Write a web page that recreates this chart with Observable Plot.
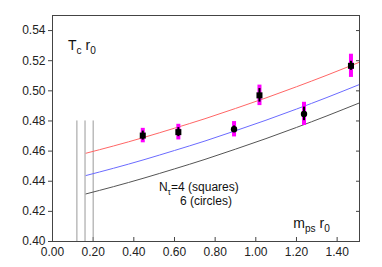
<!DOCTYPE html>
<html><head><meta charset="utf-8">
<style>body{margin:0;background:#fff}</style>
<script src="https://cdn.jsdelivr.net/npm/d3@7"></script>
<script src="https://cdn.jsdelivr.net/npm/@observablehq/plot@0.6"></script>
</head><body><div id="chart"></div>
<script>
const xTicks = [0, 0.2, 0.4, 0.6, 0.8, 1.0, 1.2, 1.4];
const yTicks = [0.40, 0.42, 0.44, 0.46, 0.48, 0.50, 0.52, 0.54];
const massX = [0.444, 0.619, 0.893, 1.018, 1.237, 1.468];
const tcY = [0.4703, 0.4726, 0.4745, 0.4970, 0.4847, 0.5166];
const errTot = [0.0048, 0.0052, 0.0051, 0.0068, 0.0077, 0.0077];
const errStat = [0.003, 0.003, 0.0022, 0.0045, 0.0045, 0.003];
const shapes = ["square", "square", "circle", "square", "circle", "square"];
const physMass = [0.12, 0.16, 0.20];
const curveX = [0.165, 0.3, 0.45, 0.6, 0.75, 0.9, 1.05, 1.2, 1.35, 1.51];
const redY  = [0.4586, 0.4634, 0.4691, 0.4752, 0.4815, 0.4883, 0.4953, 0.5027, 0.5104, 0.5190];
const blueY = [0.4438, 0.4486, 0.4543, 0.4604, 0.4667, 0.4735, 0.4805, 0.4879, 0.4956, 0.5042];
const grayY = [0.4316, 0.4364, 0.4421, 0.4482, 0.4545, 0.4613, 0.4683, 0.4757, 0.4834, 0.4920];

const points = massX.map((x, i) => ({x, y: tcY[i], et: errTot[i], es: errStat[i], s: shapes[i]}));
const curves = [
  {c: "#ff6666", y: redY},
  {c: "#6b6bff", y: blueY},
  {c: "#555555", y: grayY}
].flatMap(d => curveX.map((x, i) => ({x, y: d.y[i], c: d.c})));

const labels = [
  {x: 0.079, y: 0.5268, size: 14, parts: [["T", 0], ["c", 1], [" r", 0], ["0", 1]]},
  {x: 0.526, y: 0.4334, size: 12, parts: [["N", 0], ["τ", 1], ["=4 (squares)", 0]]},
  {x: 0.629, y: 0.4239, size: 12, parts: [["6 (circles)", 0]]},
  {x: 1.187, y: 0.4084, size: 14, parts: [["m", 0], ["ps", 1], [" r", 0], ["0", 1]]}
];

const font = "'Liberation Sans', Arial, Helvetica, sans-serif";
const plot = Plot.plot({
  width: 382, height: 267,
  marginLeft: 52, marginRight: 23, marginTop: 15, marginBottom: 26,
  style: {fontFamily: font, fontSize: "12px", background: "#fff", color: "#222"},
  x: {domain: [0, 1.51]},
  y: {domain: [0.40, 0.55]},
  marks: [
    Plot.axisX(xTicks, {tickSize: -4, tickFormat: () => "", stroke: "#444", label: null}),
    Plot.axisX(xTicks, {tickSize: 0, tickPadding: 6, tickFormat: d3.format(".2f"), fontSize: 12, fill: "#222", label: null}),
    Plot.axisY(yTicks, {tickSize: 4, tickPadding: 3, tickFormat: d3.format(".2f"), fontSize: 12, fill: "#222", stroke: "#444", label: null}),
    Plot.axisY(yTicks, {anchor: "right", tickSize: -4, tickFormat: () => "", stroke: "#444", label: null}),
    Plot.ruleX(physMass, {y1: 0.40, y2: 0.48, stroke: "#999", strokeWidth: 1}),
    Plot.line(curves, {x: "x", y: "y", z: "c", stroke: "c", strokeWidth: 1, curve: "natural"}),
    Plot.ruleX(points, {x: "x", y1: d => d.y - d.et, y2: d => d.y + d.et, stroke: "#ff00ff", strokeWidth: 4}),
    Plot.ruleX(points, {x: "x", y1: d => d.y - d.es, y2: d => d.y + d.es, stroke: "#000", strokeWidth: 2}),
    Plot.dot(points.filter(d => d.s === "square"), {x: "x", y: "y", symbol: "square", r: 3.4, fill: "#000", stroke: "none"}),
    Plot.dot(points.filter(d => d.s === "circle"), {x: "x", y: "y", symbol: "circle", r: 3.2, fill: "#000", stroke: "none"}),
    Plot.frame({stroke: "#444"})
  ]
});

const sx = plot.scale("x"), sy = plot.scale("y");
const svg = d3.select(plot);
labels.forEach(l => {
  const t = svg.append("text")
    .attr("x", sx.apply(l.x)).attr("y", sy.apply(l.y))
    .attr("text-anchor", "start")
    .attr("font-family", font).attr("font-size", l.size).attr("fill", "#111");
  let prev = 0;
  l.parts.forEach(([s, sub]) => {
    const shift = sub ? 4 : 0;
    t.append("tspan").attr("dy", shift - prev).attr("font-size", sub ? l.size * 0.72 : l.size).text(s);
    prev = shift;
  });
});
document.getElementById("chart").appendChild(plot);
</script>
</body></html>
